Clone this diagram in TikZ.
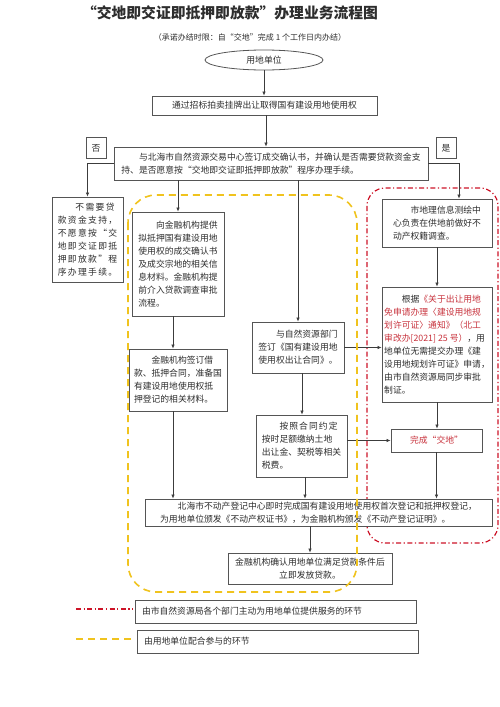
\documentclass[tikz,border=0pt]{standalone}
\usepackage{fontspec}
\setmainfont{Noto Sans CJK SC}
\usetikzlibrary{arrows.meta,shapes.geometric,calc}
\definecolor{txt}{RGB}{45,45,45}
\definecolor{edge}{RGB}{85,85,85}
\definecolor{redtxt}{RGB}{200,50,60}
\definecolor{redline}{RGB}{205,20,40}
\definecolor{yel}{RGB}{240,195,30}
\begin{document}
\begin{tikzpicture}[x=1pt,y=-1pt,
  body/.style={font=\fontsize{8.8}{13}\selectfont, text=txt},
  box/.style={body, draw=edge, line width=0.8pt, fill=white, align=left, inner sep=1.2pt},
  wh/.style n args={2}{minimum width=#1pt, minimum height=#2pt},
  ell/.style={body, ellipse, draw=edge, line width=0.8pt, fill=white, inner sep=0pt},
  flow/.style={draw=edge!70!black, line width=0.7pt, -{Latex[length=4pt,width=3.5pt]}},
  reddash/.style={draw=redline, line width=1.2pt, dash pattern=on 5pt off 2.5pt on 1.2pt off 2.5pt},
  yeldash/.style={draw=yel, line width=1.6pt, dash pattern=on 7pt off 5pt},
  legbox/.style={box, text width=267pt, inner xsep=7pt, minimum height=23pt}
]
\useasboundingbox (0,0) rectangle (500,707);

% titles
\node[font=\fontsize{14.8}{16}\selectfont\bfseries, text=txt] (title) at (230,13) {“交地即交证即抵押即放款”办理业务流程图};
\node[font=\fontsize{8}{10}\selectfont, text=txt] (sub) at (250,37) {（承诺办结时限：自“交地”完成 1 个工作日内办结）};

% red service region (behind boxes)
\draw[reddash, rounded corners=18pt] (367,188) rectangle (498,543);

% nodes
\node[ell, minimum width=118pt, minimum height=20pt] (start) at (264,60) {用地单位};
\node[box, wh={225}{19}, align=center] (b2) at (264.5,105.5) {通过招标拍卖挂牌出让取得国有建设用地使用权};
\node[box, wh={314}{33}] (b3) at (271,163.5) {\hspace*{2em}与北海市自然资源交易中心签订成交确认书，并确认是否需要贷款资金支\\持、是否愿意按“交地即交证即抵押即放款”程序办理手续。};
\node[box, wh={20}{21}, align=center, inner sep=0pt] (no) at (96,148) {否};
\node[box, wh={20}{21}, align=center, inner sep=0pt] (yes) at (446,148) {是};

\node[box, wh={71}{85}, font=\fontsize{8.8}{13}\selectfont\addfontfeature{LetterSpace=15}] (bno) at (87.5,239.5) {\hspace*{2em}不需要贷\\款资金支持，\\不愿意按“交\\地即交证即抵\\押即放款”程\\序办理手续。};
\node[box, wh={92}{104}] (bfin) at (178,264) {\hspace*{2em}向金融机构提供\\拟抵押国有建设用地\\使用权的成交确认书\\及成交宗地的相关信\\息材料。金融机构提\\前介入贷款调查审批\\流程。};
\node[box, wh={98}{62}] (bsign) at (178,380) {\hspace*{2em}金融机构签订借\\款、抵押合同，准备国\\有建设用地使用权抵\\押登记的相关材料。};
\node[box, wh={92}{51}] (bnat) at (298,347.5) {\hspace*{2em}与自然资源部门\\签订《国有建设用地\\使用权出让合同》。};
\node[box, wh={91}{62}] (bpay) at (301.5,446) {\hspace*{2em}{\addfontfeature{LetterSpace=12}按照合同约定}\\按时足额缴纳土地\\出让金、契税等相关\\税费。};

\node[box, wh={110}{48}] (bsur) at (437,223) {\hspace*{2em}市地理信息测绘中\\心负责在供地前做好不\\动产权籍调查。};
\node[box, wh={110}{115}] (bbas) at (437,344.5) {\hspace*{2em}根据\textcolor{redtxt}{《关于出让用地}\\\textcolor{redtxt}{免申请办理〈建设用地规}\\\textcolor{redtxt}{划许可证〉通知》（北工}\\\textcolor{redtxt}{审改办[2021] 25 号）}，用\\地单位无需提交办理《建\\设用地规划许可证》申请，\\由市自然资源局同步审批\\制证。};
\node[box, wh={91}{23}, align=center, text=redtxt] (bdone) at (436.5,440.5) {完成“交地”};

\node[box, wh={347}{27}] (breg) at (318.5,512.5) {\hspace*{2em}北海市不动产登记中心即时完成国有建设用地使用权首次登记和抵押权登记，\\为用地单位颁发《不动产权证书》，为金融机构颁发《不动产登记证明》。};
\node[box, wh={164}{31}, align=center] (bloan) at (310,568.5) {金融机构确认用地单位满足贷款条件后\\立即发放贷款。};

% connectors
\draw[flow] (start.south) -- (start.south |- b2.north);
\draw[flow] ([xshift=1.5pt]b2.south) -- ([xshift=1.5pt]b2.south |- b3.north);
\draw[flow] (b3.west) -| (bno.north);
\draw[flow] (b3.east) -| ([xshift=22pt]bsur.north);
\draw[flow] (b3.south -| bfin.north) -- (bfin.north);
\draw[flow] (b3.south -| bnat.north) -- (bnat.north);
\draw[flow] ([xshift=-5pt]bfin.south) -- ([xshift=-5pt]bfin.south |- bsign.north);
\draw[flow] ([xshift=-5pt]bsign.south) -- ([xshift=-5pt]bsign.south |- breg.north);
\draw[flow] (bnat.east) -- (bnat.east -| bbas.west);
\draw[flow] ([xshift=4pt]bnat.south) -- ([xshift=4pt]bnat.south |- bpay.north);
\draw[flow] ([xshift=3.5pt]bpay.south) -- ([xshift=3.5pt]bpay.south |- breg.north);
\draw[flow] (bsur.south) -- (bbas.north);
\draw[flow] (bbas.south) -- (bbas.south |- bdone.north);
\draw[flow] (bdone.west -| bpay.east) -- (bdone.west);
\draw[flow] (bdone.south) -- (bdone.south |- breg.north);
\draw[flow] (bloan.north |- breg.south) -- (bloan.north);

% yellow participation region (on top)
\draw[yeldash, rounded corners=28pt] (128,195) rectangle (357,592);

% legend
\coordinate (l1a) at (76,609);
\coordinate (l1b) at (133,609);
\draw[reddash] (l1a) -- (l1b);
\node[legbox] (leg1) at (275.5,611.5) {由市自然资源局各个部门主动为用地单位提供服务的环节};
\coordinate (l2a) at (76,639);
\coordinate (l2b) at (133,639);
\draw[yeldash] (l2a) -- (l2b);
\node[legbox] (leg2) at (277.5,641.5) {由用地单位配合参与的环节};
\end{tikzpicture}
\end{document}
